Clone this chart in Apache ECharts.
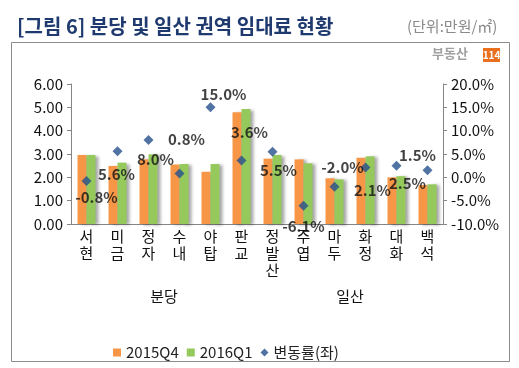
<!DOCTYPE html>
<html><head><meta charset="utf-8">
<script src="https://cdn.jsdelivr.net/npm/echarts@6/dist/echarts.min.js"></script>
<style>html,body{margin:0;padding:0;background:#fff}#c{width:519px;height:368px}</style>
</head><body><div id="c"></div>
<script>
const categories = ['서현','미금','정자','수내','야탑','판교','정발산','주엽','마두','화정','대화','백석'];
const groups = ['분당','일산'];
const q4_2015 = [2.96, 2.49, 2.77, 2.55, 2.24, 4.79, 2.80, 2.77, 1.96, 2.84, 2.00, 1.67];
const q1_2016 = [2.96, 2.63, 2.99, 2.57, 2.57, 4.93, 2.96, 2.60, 1.91, 2.90, 2.05, 1.70];
const changeRate = [-0.8, 5.6, 8.0, 0.8, 15.0, 3.6, 5.5, -6.1, -2.0, 2.1, 2.5, 1.5];
const leftTicks = [0, 6, 1];
const rightTicks = [-10, 20, 5];
// label offsets (style only)
const labelOffsets = [[10,16],[-1,23],[7,19],[7,-34],[13,-13],[8,-28],[6,19],[0,20],[8,-19],[7,23],[11,18],[-10,-15]];

const FONT = "'Noto Sans CJK KR', 'Noto Sans', sans-serif";
const chart = echarts.init(document.getElementById('c'), null, {renderer:'canvas'});
const barShadow = {shadowColor:'rgba(0,0,0,0.35)', shadowOffsetX:3, shadowOffsetY:1, shadowBlur:3};
chart.setOption({
  animation:false,
  textStyle:{fontFamily:FONT},
  grid:{left:71, right:76, top:84, bottom:144},
  legend:{
    left:108, top:340, itemWidth:8, itemHeight:8, itemGap:8,
    textStyle:{fontSize:15, color:'#222', fontFamily:FONT},
    data:[{name:'2015Q4', icon:'rect'},{name:'2016Q1', icon:'rect'},{name:'변동률(좌)', icon:'diamond'}]
  },
  xAxis:[{
    type:'category', data:categories, position:'bottom',
    axisLine:{lineStyle:{color:'#868686'}},
    axisTick:{length:53, lineStyle:{color:'#a6a6a6'}},
    axisLabel:{interval:0, margin:4, color:'#111', fontSize:15, lineHeight:17, fontFamily:FONT,
      formatter:v=>v.split('').join('\n')}
  },{
    type:'category', data:groups, position:'bottom',
    axisLine:{show:false},
    axisTick:{length:84, lineStyle:{color:'#a6a6a6'}},
    axisLabel:{margin:65, color:'#111', fontSize:15, fontFamily:FONT}
  }],
  yAxis:[{
    type:'value', min:leftTicks[0], max:leftTicks[1], interval:leftTicks[2],
    splitLine:{show:false},
    axisLine:{show:true, lineStyle:{color:'#868686'}},
    axisTick:{show:true, length:4, lineStyle:{color:'#868686'}},
    axisLabel:{formatter:v=>v.toFixed(2), color:'#111', fontSize:15, margin:8, fontFamily:FONT}
  },{
    type:'value', min:rightTicks[0], max:rightTicks[1], interval:rightTicks[2],
    splitLine:{show:false},
    axisLine:{show:true, lineStyle:{color:'#868686'}},
    axisTick:{show:true, length:4, lineStyle:{color:'#868686'}},
    axisLabel:{formatter:v=>v.toFixed(1)+'%', color:'#111', fontSize:15, margin:8, fontFamily:FONT}
  }],
  series:[{
    name:'2015Q4', type:'bar', data:q4_2015, barWidth:9, barGap:'0%',
    itemStyle:Object.assign({color:'#F79646'}, barShadow)
  },{
    name:'2016Q1', type:'bar', data:q1_2016, barWidth:9, barGap:'0%',
    itemStyle:Object.assign({color:'#95C95C'}, barShadow)
  },{
    name:'변동률(좌)', type:'scatter', yAxisIndex:1, symbol:'diamond', symbolSize:10,
    itemStyle:{color:'#24508C'}, z:5,
    data:changeRate.map((v,i)=>({value:v, label:{offset:labelOffsets[i]}})),
    label:{show:true, position:'inside', formatter:p=>p.value.toFixed(1)+'%',
      fontSize:15, fontWeight:'bold', color:'#111', fontFamily:FONT}
  }],
  graphic:[
    {type:'rect', shape:{x:11.5, y:42.5, width:498, height:319}, style:{fill:'none', stroke:'#8c8c8c', lineWidth:1}, z:-1},
    {type:'text', left:17, top:16, style:{text:'[그림 6] 분당 및 일산 권역 임대료 현황', font:"bold 20px "+FONT, fill:'#1F3A6E'}},
    {type:'text', left:407, top:19, style:{text:'(단위:만원/㎡)', font:"15px "+FONT, fill:'#8a8a8a'}},
    {type:'text', left:432, top:47, style:{text:'부동산', font:"bold 13px "+FONT, fill:'#a0a0a0'}},
    {type:'rect', shape:{x:483, y:48, width:17, height:14}, style:{fill:'#E8701E'}},
    {type:'text', style:{x:491.5, y:55, text:'114', textAlign:'center', textVerticalAlign:'middle', font:"bold 10px "+FONT, fill:'#fff'}}
  ]
});
</script></body></html>
